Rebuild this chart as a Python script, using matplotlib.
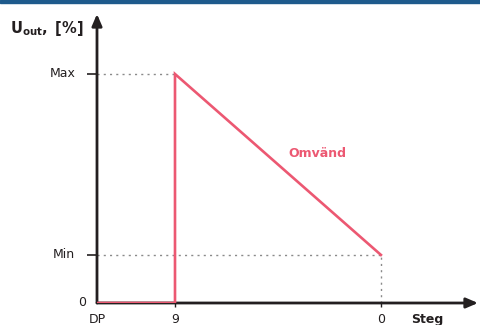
import matplotlib.pyplot as plt
from matplotlib.patches import Rectangle

# step positions on the x axis (DP, step 9, step 0) and output levels
step_labels = ['DP', '9', '0']
step_pos = [0.0, 1.0, 3.64]
level_labels = ['0', 'Min', 'Max']
level_vals = [0, 21, 100]

curve_x = [0.0, 1.0, 1.0, 3.64]
curve_y = [0, 0, 100, 21]

pink = '#ec5872'
dark = '#231f20'
grey = '#8a8a8a'

fig = plt.figure(figsize=(4.8, 3.25), dpi=100)
fig.patch.set_facecolor('white')
W, H = 480, 325
x0, y0, x1, y1 = 97, 303, 478, 14
ax = fig.add_axes([x0 / W, (H - y0) / H, (x1 - x0) / W, (y0 - y1) / H])
xmax = (x1 - x0) / 78.0
ymax = (y0 - y1) / 229.0 * 100
ax.set_xlim(0, xmax)
ax.set_ylim(0, ymax)
for s in ax.spines.values():
    s.set_visible(False)

# axes with arrow heads
ax.annotate('', xy=(xmax, 0), xytext=(0, 0), annotation_clip=False,
            arrowprops=dict(arrowstyle='-|>,head_length=0.7,head_width=0.3',
                            color=dark, lw=2, shrinkA=0, shrinkB=0))
ax.annotate('', xy=(0, ymax), xytext=(0, 0), annotation_clip=False,
            arrowprops=dict(arrowstyle='-|>,head_length=0.7,head_width=0.3',
                            color=dark, lw=2, shrinkA=0, shrinkB=0))

# dotted guides
ax.plot([0, curve_x[2]], [level_vals[2]] * 2, ls=(0, (1.5, 3)), color=grey, lw=1)
ax.plot([0, curve_x[3]], [level_vals[1]] * 2, ls=(0, (1.5, 3)), color=grey, lw=1)
ax.plot([step_pos[2]] * 2, [0, level_vals[1]], ls=(0, (1.5, 3)), color=grey, lw=1)

ax.plot(curve_x, curve_y, color=pink, lw=1.9, solid_joinstyle='miter', zorder=3)

ax.set_xticks(step_pos[1:])
ax.set_xticklabels([])
ax.tick_params(axis='x', length=3, width=1, color=dark)
ax.set_yticks(level_vals[1:])
ax.set_yticklabels([])
ax.tick_params(axis='y', length=7, width=1.2, color=dark)

for lab, v in zip(level_labels, level_vals):
    off = -0.14 if lab == '0' else -0.28
    ax.text(off, v, lab, ha='right', va='center', fontsize=9, color=dark)
for lab, p in zip(step_labels, step_pos):
    ax.text(p, -4.5, lab, ha='center', va='top', fontsize=9, color=dark)

ax.text(2.83, 65.5, 'Omvänd', ha='center', va='center',
        fontsize=9, fontweight='bold', color=pink)
ax.text(4.03, -4.5, 'Steg', ha='left', va='top', fontsize=9,
        fontweight='bold', color=dark)
fig.text(10 / W, 1 - 29 / H, r'$\mathbf{U}_{\mathbf{out}}\mathbf{,\ [\%]}$',
         ha='left', va='center', fontsize=10.5, color=dark)

fig.patches.append(Rectangle((0, 1 - 3 / H), 1, 3 / H, transform=fig.transFigure,
                             color='#1e5a8c'))

fig.savefig('out.png', dpi=100)
